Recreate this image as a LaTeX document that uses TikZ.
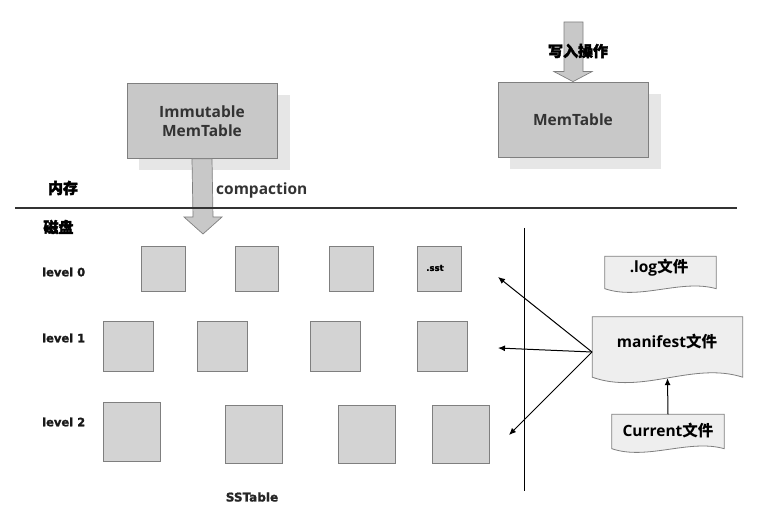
\documentclass[tikz,border=0pt]{standalone}
\usepackage{fontspec}
\setmainfont{Open Sans}
\newfontfamily\cjk{Noto Sans CJK SC}
\newfontfamily\cjkheavy{Noto Sans CJK SC}[BoldFeatures={FakeBold=2.5}]
\newfontfamily\lvlfont{DejaVu Sans}[BoldFeatures={FakeBold=1.5}]
\usetikzlibrary{arrows.meta,calc}
\definecolor{boxfill}{HTML}{C8C8C8}
\definecolor{boxline}{HTML}{7F7F7F}
\definecolor{shadowfill}{HTML}{E6E6E6}
\definecolor{smallfill}{HTML}{D3D3D3}
\definecolor{docfill}{HTML}{EEEEEE}
\definecolor{txt}{HTML}{333333}
\tikzset{
  membox/.style={draw=boxline, fill=boxfill, line width=0.8pt, inner sep=0pt,
    align=center, text=txt, font=\fontsize{15.5}{19}\selectfont\bfseries},
  shadowbox/.style={fill=shadowfill, draw=none, inner sep=0pt},
  sstbox/.style={draw=boxline, fill=smallfill, line width=1pt, inner sep=0pt},
  blockarrow/.style={draw=boxline, fill=boxfill, line width=0.7pt},
  doctext/.style={inner sep=0pt, text=black, font=\fontsize{15.5}{18}\selectfont\bfseries},
  docshape/.style={draw=boxline, fill=docfill, line width=0.8pt},
  lvl/.style={font=\lvlfont\fontsize{11.5}{13}\selectfont\bfseries, anchor=west, text=black!90},
  cjklabel/.style={font=\cjkheavy\fontsize{15}{17}\selectfont\bfseries},
  conn/.style={draw=black, line width=1pt, -{Latex[length=7pt,width=6pt]}},
}
\begin{document}
\begin{tikzpicture}[x=1pt,y=-1pt]
\useasboundingbox (0,0) rectangle (758,521);

% Immutable MemTable
\node[shadowbox, minimum width=151pt, minimum height=75pt] (immsh) at (214,133) {};
\node[membox, minimum width=150pt, minimum height=75pt] (imm) at (202,121) {Immutable\\MemTable};

% MemTable
\node[shadowbox, minimum width=151pt, minimum height=75pt] (memsh) at (585,131.5) {};
\node[membox, minimum width=150pt, minimum height=75pt] (mem) at (573,119.5) {MemTable};

% write arrow into MemTable
\coordinate (wtop) at (573.5,22);
\draw[blockarrow] ($(wtop)+(-9.5,0)$) -- ($(wtop)+(9.5,0)$) -- ($(mem.north)+(10,-10)$) -- ($(mem.north)+(19,-10)$)
  -- (mem.north) -- ($(mem.north)+(-19,-10)$) -- ($(mem.north)+(-9,-10)$) -- cycle;
\node[cjklabel] (write) at (578,51) {写入操作};

% compaction arrow
\coordinate (ctip) at (203,234);
\draw[blockarrow] ($(imm.south)+(-10,0)$) -- ($(imm.south)+(10,0)$) -- ($(ctip)+(10,-17)$) -- ($(ctip)+(19,-17)$)
  -- (ctip) -- ($(ctip)+(-19,-17)$) -- ($(ctip)+(-10,-17)$) -- cycle;
\node[anchor=west, inner sep=0pt, font=\fontsize{15.5}{18}\selectfont\bfseries, text=txt] (comp) at (216,190) {compaction};

% divider
\coordinate (hl) at (15,208);
\coordinate (hr) at (737,208);
\draw[line width=1.4pt, draw=black!80] (hl) -- (hr);
\node[cjklabel] (neicun) at (63,188) {内存};
\node[cjklabel] (cipan) at (58.5,227) {磁盘};

% vertical line
\coordinate (vt) at (524,228);
\coordinate (vb) at (524,491);
\draw[line width=1pt] (vt) -- (vb);

% level labels
\node[lvl, inner sep=0pt] (l0) at (42,272) {level 0};
\node[lvl, inner sep=0pt] (l1) at (42,338) {level 1};
\node[lvl, inner sep=0pt] (l2) at (42,422) {level 2};

% level 0 boxes
\node[sstbox, minimum width=44pt, minimum height=45pt] (a1) at (163,269.5) {};
\node[sstbox, minimum width=43pt, minimum height=45pt] (a2) at (256.5,269.5) {};
\node[sstbox, minimum width=44pt, minimum height=45pt] (a3) at (351,269.5) {};
\node[sstbox, minimum width=44pt, minimum height=45pt] (a4) at (439,269.5) {};
\node[font=\lvlfont\fontsize{8.5}{10}\selectfont\bfseries, inner sep=0pt] (ssttxt) at (435,268) {.sst};
% level 1 boxes
\node[sstbox, minimum width=50pt, minimum height=50pt] (b1) at (128,347) {};
\node[sstbox, minimum width=50pt, minimum height=50pt] (b2) at (222,347) {};
\node[sstbox, minimum width=50pt, minimum height=50pt] (b3) at (335,347) {};
\node[sstbox, minimum width=50pt, minimum height=50pt] (b4) at (442,347) {};
% level 2 boxes
\node[sstbox, minimum width=57pt, minimum height=59pt] (c1) at (131.5,431.5) {};
\node[sstbox, minimum width=57pt, minimum height=58pt] (c2) at (253.5,434) {};
\node[sstbox, minimum width=57pt, minimum height=58pt] (c3) at (366.5,434) {};
\node[sstbox, minimum width=57pt, minimum height=58pt] (c4) at (460.5,434) {};

\node[font=\lvlfont\fontsize{12}{14}\selectfont\bfseries, text=black!85] (sst) at (252,497) {SSTable};

% documents
\node[minimum width=111pt, minimum height=32pt, inner sep=0pt] (log) at (660.5,272.5) {};
\draw[docshape] (log.north west) -- (log.north east) -- (log.south east)
  .. controls ($(log.south east)+(-35,-10)$) and ($(log.south west)+(35,12)$) .. (log.south west) -- cycle;
\node[doctext] (logt) at (659,268) {.log{\cjk 文件}};

\node[minimum width=150pt, minimum height=60pt, inner sep=0pt] (man) at (667.5,347) {};
\draw[docshape] (man.north west) -- (man.north east) -- (man.south east)
  .. controls ($(man.south east)+(-50,-16)$) and ($(man.south west)+(50,18)$) .. (man.south west) -- cycle;
\node[doctext] (mant) at (667,342) {manifest{\cjk 文件}};

\node[minimum width=112pt, minimum height=34pt, inner sep=0pt] (cur) at (668,431.5) {};
\draw[docshape] (cur.north west) -- (cur.north east) -- (cur.south east)
  .. controls ($(cur.south east)+(-35,-10)$) and ($(cur.south west)+(35,12)$) .. (cur.south west) -- cycle;
\node[doctext] (curt) at (668,431) {Current{\cjk 文件}};

% connectors
\coordinate (mo) at (592,352);
\coordinate (t0) at (498,277);
\coordinate (t1) at (498,348);
\coordinate (t2) at (509,435);
\draw[conn] (mo) -- (t0);
\draw[conn] (mo) -- (t1);
\draw[conn] (mo) -- (t2);
\draw[conn] (cur.north) -- ($(man.south)+(0,1)$);
\end{tikzpicture}
\end{document}
